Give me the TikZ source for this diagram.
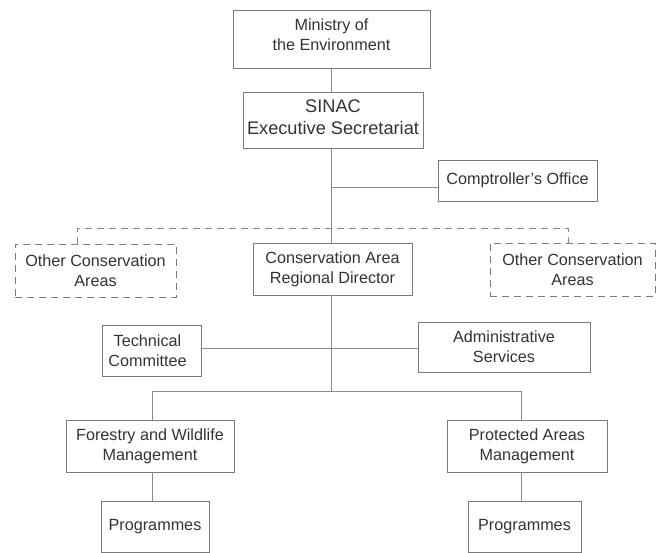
\documentclass[tikz,border=0pt]{standalone}
\usepackage{fontspec}
\setmainfont{Liberation Sans}
\definecolor{txt}{HTML}{333333}
\definecolor{ln}{HTML}{8A8A8A}
\definecolor{bd}{HTML}{7A7A7A}
\begin{document}
\begin{tikzpicture}[x=1pt,y=-1pt,
  box/.style={draw=bd, line width=0.9pt, inner sep=0pt, align=center,
    text=txt, font=\fontsize{16.2}{20}\selectfont},
  dbox/.style={box, dashed, dash pattern=on 7pt off 5pt},
  conn/.style={draw=ln, line width=0.9pt},
  dconn/.style={conn, dash pattern=on 7pt off 5pt}]
\useasboundingbox (0,0) rectangle (659,553);
\node[box, minimum width=197pt, minimum height=58pt, text depth=9pt] (min) at (331.5,39) {Ministry of\\the Environment};
\node[box, minimum width=180pt, minimum height=56pt, text depth=6pt, font=\fontsize{18.2}{22}\selectfont] (sinac) at (333,120) {SINAC\\Executive Secretariat};
\node[box, minimum width=159pt, minimum height=41pt] (comp) at (517.5,180.5) {Comptroller’s Office};
\node[dbox, minimum width=161pt, minimum height=53pt] (ol) at (95.5,270.5) {Other Conservation\\Areas};
\node[box, minimum width=159pt, minimum height=52pt] (dir) at (332.5,269) {Conservation Area\\Regional Director};
\node[dbox, minimum width=165pt, minimum height=53pt] (or) at (572.5,269.5) {Other Conservation\\Areas};
\node[box, minimum width=99pt, minimum height=51pt] (tech) at (151.5,350.5) {Technical\hspace*{8pt}\\Committee\hspace*{8pt}};
\node[box, minimum width=172pt, minimum height=50pt] (adm) at (504,347) {Administrative\\Services};
\node[box, minimum width=168pt, minimum height=52pt] (fw) at (150,446) {Forestry and Wildlife\\Management};
\node[box, minimum width=160pt, minimum height=52pt] (pa) at (527,446) {Protected Areas\\Management};
\node[box, minimum width=108pt, minimum height=51pt] (p1) at (155,526.5) {Programmes};
\node[box, minimum width=113pt, minimum height=51pt] (p2) at (524.5,526.5) {Programmes};
% trunk coordinates
\coordinate (tA) at (331,187);
\coordinate (tB) at (331,348);
\coordinate (tC) at (331,391);
\coordinate (dl) at (77,228);
\coordinate (dr) at (568,228);
\coordinate (bl) at (152,391);
\coordinate (br) at (521,391);
% connectors
\draw[conn] (min.south -| tA) -- (sinac.north -| tA);
\draw[conn] (sinac.south -| tA) -- (dir.north -| tA);
\draw[conn] (tA) -- (comp.west |- tA);
\draw[dconn] (ol.north -| dl) -- (dl) -- (dr) -- (or.north -| dr);
\draw[conn] (dir.south -| tA) -- (tC);
\draw[conn] (tech.east |- tB) -- (adm.west |- tB);
\draw[conn] (fw.north -| bl) -- (bl) -- (br) -- (pa.north -| br);
\draw[conn] (fw.south -| bl) -- (p1.north -| bl);
\draw[conn] (pa.south -| br) -- (p2.north -| br);
\end{tikzpicture}
\end{document}
